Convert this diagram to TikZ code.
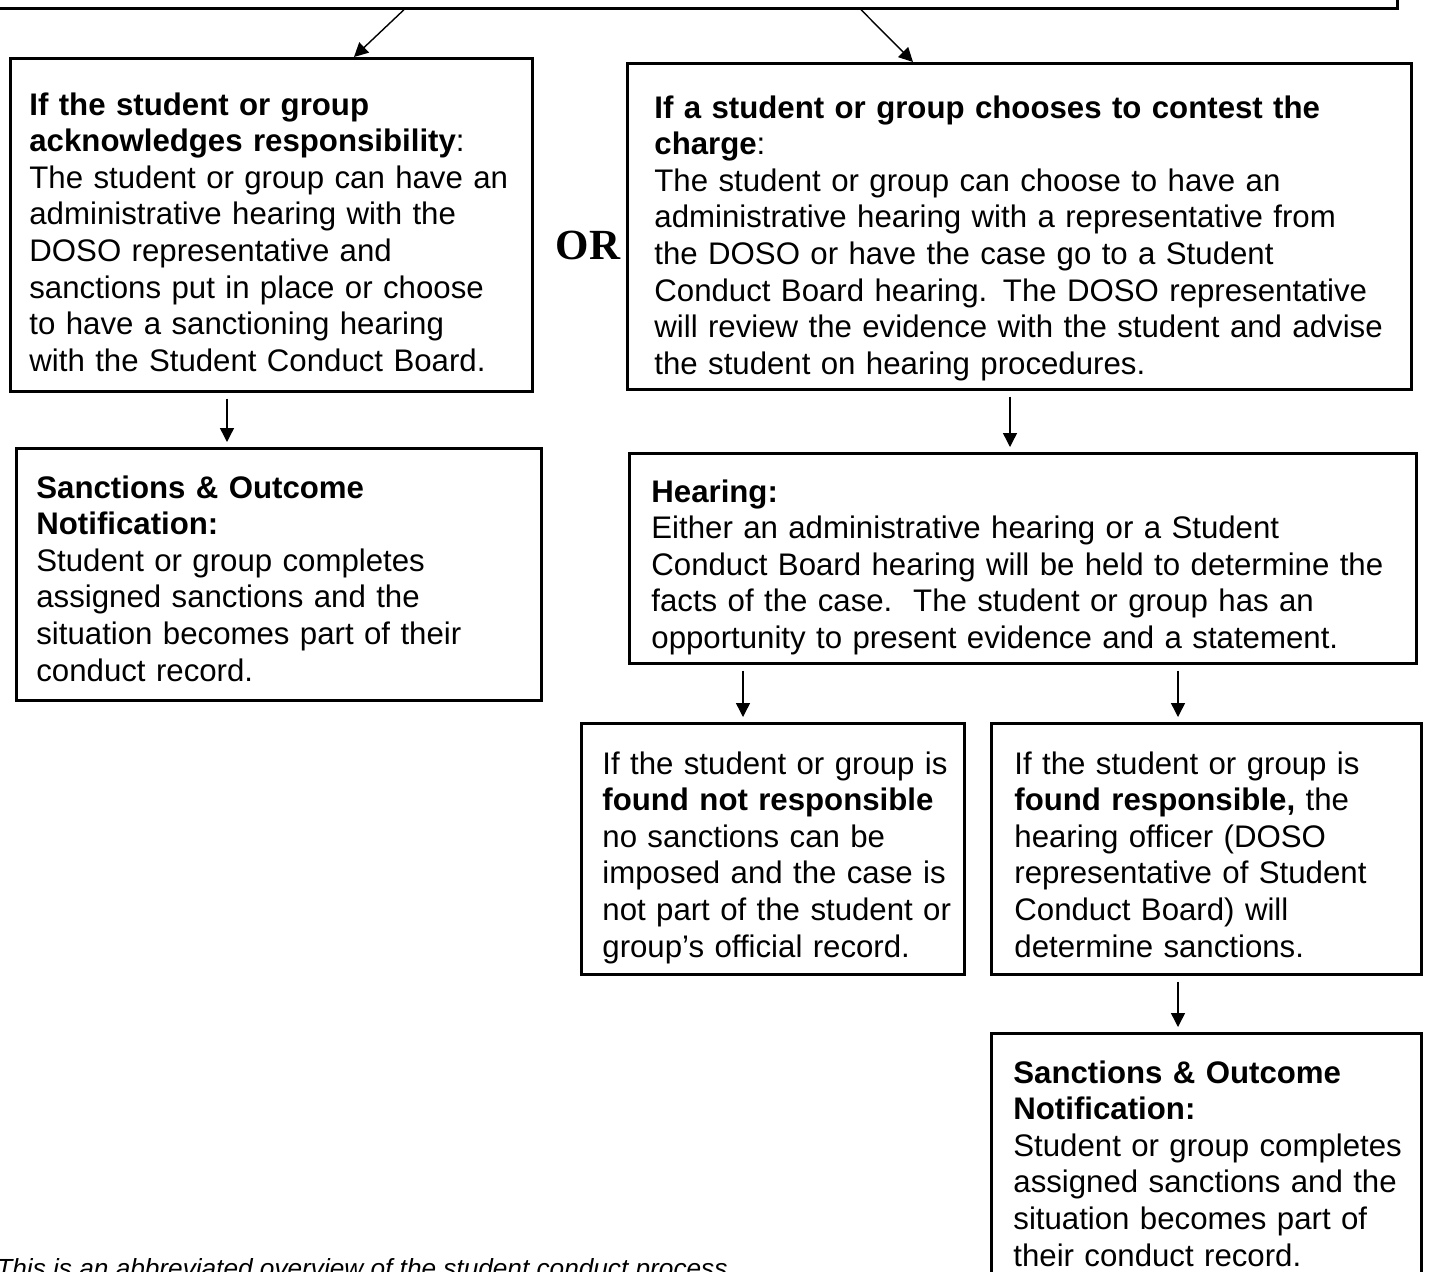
\documentclass[tikz,border=0pt]{standalone}
\usepackage{fontspec}
\setmainfont{Liberation Sans}
\newfontfamily\orfont{Liberation Serif}
\usetikzlibrary{arrows.meta}

\tikzset{
  box/.style={draw, line width=1.35pt, anchor=north west, inner sep=0pt},
  txt/.style={anchor=base west, align=left, inner sep=0pt, text width=400pt,
    font=\fontsize{15.6}{18.3}\selectfont},
  link/.style={-{Triangle[length=7pt,width=7pt]}, line width=0.7pt,
    shorten <=3pt, shorten >=2.5pt},
  diag/.style={-{Triangle[length=7pt,width=7pt]}, line width=0.7pt}
}

\begin{document}
\begin{tikzpicture}[x=0.5pt, y=-0.5pt]
  \useasboundingbox (0,0) rectangle (1431,1271);
  \clip (0,0) rectangle (1431,1271);

  % boxes
  \node[box, minimum width=708pt, minimum height=53.5pt] (intro) at (-20,-100) {};
  \node[box, minimum width=261pt, minimum height=166.5pt] (ack) at (9,57) {};
  \node[box, minimum width=392pt, minimum height=163pt] (contest) at (626,62) {};
  \node[box, minimum width=262.5pt, minimum height=126pt] (sanL) at (15,447) {};
  \node[box, minimum width=393.5pt, minimum height=105pt] (hear) at (628,452) {};
  \node[box, minimum width=191.5pt, minimum height=125.5pt] (notr) at (580,722) {};
  \node[box, minimum width=215pt, minimum height=125.5pt] (resp) at (990,722) {};
  \node[box, minimum width=215pt, minimum height=134pt] (sanR) at (990,1032) {};

  % texts
  \node[txt] (tAck) at (29,115) {\textbf{If the student or group}\\
    \textbf{acknowledges responsibility}:\\
    The student or group can have an\\
    administrative hearing with the\\
    DOSO representative and\\
    sanctions put in place or choose\\
    to have a sanctioning hearing\\
    with the Student Conduct Board.};
  \node[txt] (tContest) at (654,118) {\textbf{If a student or group chooses to contest the}\\
    \textbf{charge}:\\
    The student or group can choose to have an\\
    administrative hearing with a representative from\\
    the DOSO or have the case go to a Student\\
    Conduct Board hearing. The DOSO representative\\
    will review the evidence with the student and advise\\
    the student on hearing procedures.};
  \node[txt] (tSanL) at (36,498) {\textbf{Sanctions \& Outcome}\\
    \textbf{Notification:}\\
    Student or group completes\\
    assigned sanctions and the\\
    situation becomes part of their\\
    conduct record.};
  \node[txt] (tHear) at (651,502) {\textbf{Hearing:}\\
    Either an administrative hearing or a Student\\
    Conduct Board hearing will be held to determine the\\
    facts of the case.\ \ The student or group has an\\
    opportunity to present evidence and a statement.};
  \node[txt] (tNotr) at (602,774) {If the student or group is\\
    \textbf{found not responsible}\\
    no sanctions can be\\
    imposed and the case is\\
    not part of the student or\\
    group’s official record.};
  \node[txt] (tResp) at (1014,774) {If the student or group is\\
    \textbf{found responsible,} the\\
    hearing officer (DOSO\\
    representative of Student\\
    Conduct Board) will\\
    determine sanctions.};
  \node[txt] (tSanR) at (1013,1083) {\textbf{Sanctions \& Outcome}\\
    \textbf{Notification:}\\
    Student or group completes\\
    assigned sanctions and the\\
    situation becomes part of\\
    their conduct record.};

  \node[font=\orfont\bfseries\fontsize{21.5}{21.5}\selectfont] (or) at (588,245) {OR};
  \node[anchor=base west, inner sep=0pt, font=\itshape\fontsize{13.1}{15}\selectfont]
    (note) at (-4,1277) {This is an abbreviated overview of the student conduct process};

  % arrows
  \draw[diag] (intro.south -| 404,0) -- (ack.north -| 354,0);
  \draw[diag] (intro.south -| 861,0) -- (contest.north -| 913,0);
  \draw[link] (ack.south -| 227,0) -- (sanL.north -| 227,0);
  \draw[link] (contest.south -| 1010,0) -- (hear.north -| 1010,0);
  \draw[link] (hear.south -| 743,0) -- (notr.north -| 743,0);
  \draw[link] (hear.south -| 1178,0) -- (resp.north -| 1178,0);
  \draw[link] (resp.south -| 1178,0) -- (sanR.north -| 1178,0);
\end{tikzpicture}
\end{document}
